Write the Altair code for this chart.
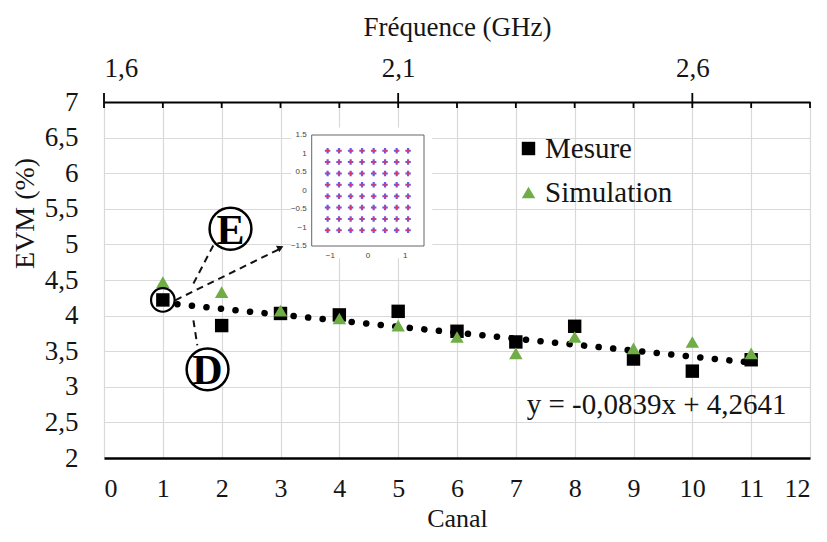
import altair as alt
import pandas as pd

# ---------------- data ----------------
canal = list(range(1, 12))
mesure = [4.22, 3.86, 4.03, 4.01, 4.06, 3.78, 3.63, 3.85, 3.39, 3.22, 3.38]
simulation = [4.47, 4.33, 4.07, 3.96, 3.86, 3.70, 3.47, 3.70, 3.54, 3.63, 3.47]
series_names = ["Mesure", "Simulation"]
series_colors = ["#000000", "#70AD47"]
series_shapes = ["square", "triangle-up"]

trend_x = [1, 11]
trend_y = [4.18, 3.34]
equation = ["y = -0,0839x + 4,2641"]
equation_x = [7.185]
equation_y = [2.74]

canal_ticks = list(range(0, 13))
evm_ticks = [2, 2.5, 3, 3.5, 4, 4.5, 5, 5.5, 6, 6.5, 7]
freq_major = [1.6, 2.1, 2.6]
freq_minor = [1.7, 1.8, 1.9, 2.0, 2.2, 2.3, 2.4, 2.5, 2.7, 2.8]

# annotations
letter_labels = ["E", "D"]
letter_x = [2.15, 1.76]
letter_y = [5.22, 3.245]
ring_x = [1.0]
ring_y = [4.22]
dash_x = [1.52, 1.21, 1.52]
dash_y = [4.45, 4.215, 3.934]
dash_x2 = [1.86, 3.02, 1.586]
dash_y2 = [4.99, 4.95, 3.582]
arrow_x = [3.0]
arrow_y = [4.955]

# inset constellation (64-QAM)
qam_levels = [-1.075, -0.77, -0.46, -0.155, 0.155, 0.46, 0.77, 1.075]
inset_yticks = [1.5, 1, 0.5, 0, -0.5, -1, -1.5]
inset_xticks = [-1, 0, 1]

FONT = "Liberation Serif"
TXT = "#151515"

# ---------------- main layer ----------------
x_scale = alt.Scale(domain=[0, 12], nice=False, zero=False)
y_scale = alt.Scale(domain=[2, 7], nice=False, zero=False)
comma = "replace(toString(datum.value), '.', ',')"

axis_x = alt.Axis(values=canal_ticks, title="Canal", grid=True, gridColor="#d9d9d9",
                  gridWidth=1.2, domainColor="black", domainWidth=2.5, ticks=False,
                  tickSize=0, labelFont=FONT, labelFontSize=26, labelColor=TXT,
                  labelPadding=17, titleFont=FONT, titleFontSize=26, titleColor=TXT,
                  titleFontWeight="normal", titleX=353, titleY=60,
                  titleBaseline="middle", titleAlign="center")
axis_y = alt.Axis(values=evm_ticks, labelExpr=comma, title="EVM (%)", grid=True,
                  gridColor="#d9d9d9", gridWidth=1.2, domain=False, ticks=False,
                  tickSize=0, labelFont=FONT, labelFontSize=27, labelColor=TXT,
                  labelPadding=26, titleFont=FONT, titleFontSize=28, titleColor=TXT,
                  titleFontWeight="normal", titleX=-79, titleY=111, titleAngle=270,
                  titleBaseline="middle", titleAlign="center")


def X(f):
    return alt.X(f, type="quantitative", scale=x_scale, axis=axis_x)


def Y(f):
    return alt.Y(f, type="quantitative", scale=y_scale, axis=axis_y)


pts = pd.DataFrame({
    "x": canal + canal,
    "y": mesure + simulation,
    "serie": [series_names[0]] * len(canal) + [series_names[1]] * len(canal),
})
trend = pd.DataFrame({"x": trend_x, "y": trend_y})
dashes = pd.DataFrame({"x": dash_x, "y": dash_y, "x2": dash_x2, "y2": dash_y2})
letters = pd.DataFrame({"x": letter_x, "y": letter_y, "t": letter_labels})
ring = pd.DataFrame({"x": ring_x, "y": ring_y})
arrow = pd.DataFrame({"x": arrow_x, "y": arrow_y})
eq = pd.DataFrame({"x": equation_x, "y": equation_y, "t": equation})

legend = alt.Legend(orient="none", legendX=410, legendY=32, title=None,
                    labelFont=FONT, labelFontSize=29, labelColor=TXT,
                    symbolSize=180, symbolStrokeWidth=0, rowPadding=14,
                    labelOffset=2, padding=0)

trend_layer = alt.Chart(trend).mark_line(
    color="black", strokeWidth=6.5, strokeDash=[0.1, 14.5], strokeCap="round"
).encode(x=X("x"), y=Y("y"))

dash_layer = alt.Chart(dashes).mark_rule(
    color="#111", strokeWidth=2, strokeDash=[7, 5]
).encode(x=X("x"), y=Y("y"), x2="x2:Q", y2="y2:Q")

arrow_layer = alt.Chart(arrow).mark_point(
    shape="triangle-right", filled=True, color="#111", size=55, angle=334, opacity=1
).encode(x=X("x"), y=Y("y"))

point_layer = alt.Chart(pts).mark_point(
    filled=True, size=180, opacity=1, strokeWidth=0
).encode(
    x=X("x"), y=Y("y"),
    color=alt.Color("serie:N", scale=alt.Scale(domain=series_names, range=series_colors), legend=legend),
    shape=alt.Shape("serie:N", scale=alt.Scale(domain=series_names, range=series_shapes), legend=legend),
)

ring_layer = alt.Chart(ring).mark_point(
    shape="circle", filled=False, stroke="black", strokeWidth=2.2, size=556, opacity=1
).encode(x=X("x"), y=Y("y"))

letter_circle = alt.Chart(letters).mark_point(
    shape="circle", fill="white", fillOpacity=1, stroke="black", strokeWidth=2.5,
    size=1750, opacity=1
).encode(x=X("x"), y=Y("y"))

letter_text = alt.Chart(letters).mark_text(
    font=FONT, fontSize=42, fontWeight="bold", color="black", align="center",
    baseline="middle", dy=2
).encode(x=X("x"), y=Y("y"), text="t:N")

eq_text = alt.Chart(eq).mark_text(
    font=FONT, fontSize=29, color=TXT, align="left", baseline="middle"
).encode(x=X("x"), y=Y("y"), text="t:N")

main = alt.layer(trend_layer, dash_layer, arrow_layer, point_layer, ring_layer,
                 letter_circle, letter_text, eq_text)

# ---------------- top frequency axis ----------------
f_scale = alt.Scale(domain=[1.6, 2.8], nice=False, zero=False)
axis_top = alt.Axis(orient="top", values=freq_major, labelExpr=comma,
                    title="Fréquence (GHz)", grid=False, ticks=False, tickSize=0,
                    domainColor="black", domainWidth=2, labelFont=FONT,
                    labelFontSize=27, labelColor=TXT, labelPadding=20,
                    titleFont=FONT, titleFontSize=27, titleColor=TXT,
                    titleFontWeight="normal", titleX=353, titleY=-75,
                    titleBaseline="middle", titleAlign="center")

top_minor = alt.Chart(pd.DataFrame({"f": freq_minor})).mark_rule(
    color="black", strokeWidth=1.8
).encode(x=alt.X("f:Q", scale=f_scale, axis=axis_top), y=alt.value(0), y2=alt.value(6))
top_major = alt.Chart(pd.DataFrame({"f": freq_major})).mark_rule(
    color="black", strokeWidth=1.8
).encode(x=alt.X("f:Q", scale=f_scale, axis=axis_top), y=alt.value(-9), y2=alt.value(6))
top = alt.layer(top_minor, top_major)

# ---------------- inset constellation ----------------
ix_scale = alt.Scale(domain=[-1.5, 1.5], range=[207.7, 320], nice=False, zero=False)
iy_scale = alt.Scale(domain=[-1.5, 1.5], range=[144, 33], nice=False, zero=False)


def IX(f):
    return alt.X(f, type="quantitative", scale=ix_scale, axis=None)


def IY(f):
    return alt.Y(f, type="quantitative", scale=iy_scale, axis=None)


const = pd.DataFrame([(a, b) for a in qam_levels for b in qam_levels], columns=["ix", "iy"])
bg = alt.Chart(pd.DataFrame({"ix": [-2.05], "iy": [-1.83], "ix2": [1.72], "iy2": [1.7]})).mark_rect(
    fill="white", stroke=None
).encode(x=IX("ix"), y=IY("iy"), x2="ix2:Q", y2="iy2:Q")
frame = alt.Chart(pd.DataFrame({"ix": [-1.5], "iy": [-1.5], "ix2": [1.5], "iy2": [1.5]})).mark_rect(
    fill="white", stroke="#555555", strokeWidth=0.9
).encode(x=IX("ix"), y=IY("iy"), x2="ix2:Q", y2="iy2:Q")
blue = alt.Chart(const).mark_point(
    shape="cross", filled=True, size=30, color="#4b3df2", opacity=0.85
).encode(x=IX("ix"), y=IY("iy"))
red = alt.Chart(const).mark_point(
    shape="cross", filled=True, size=10, color="#ff3030", opacity=0.85
).encode(x=IX("ix"), y=IY("iy"))

ylab = pd.DataFrame({"ix": [-1.5] * len(inset_yticks), "iy": inset_yticks})
xlab = pd.DataFrame({"ix": inset_xticks, "iy": [-1.5] * len(inset_xticks)})
ylab_layer = alt.Chart(ylab).mark_text(
    font="Liberation Sans", fontSize=8, color="#444444", align="right", baseline="middle", dx=-5
).encode(x=IX("ix"), y=IY("iy"), text=alt.Text("iy:Q"))
xlab_layer = alt.Chart(xlab).mark_text(
    font="Liberation Sans", fontSize=8, color="#444444", align="center", baseline="top", dy=6
).encode(x=IX("ix"), y=IY("iy"), text=alt.Text("ix:Q"))

inset = alt.layer(bg, frame, blue, red, ylab_layer, xlab_layer)

chart = alt.layer(main, top, inset).resolve_scale(
    x="independent", y="independent"
).properties(
    width=706, height=356,
    autosize=alt.AutoSizeParams(type="none"),
    padding={"left": 96, "top": 94, "right": 9, "bottom": 76},
    background="white",
).configure_view(stroke=None)

chart.save("out.html", embed_options={"renderer": "svg", "actions": False})
